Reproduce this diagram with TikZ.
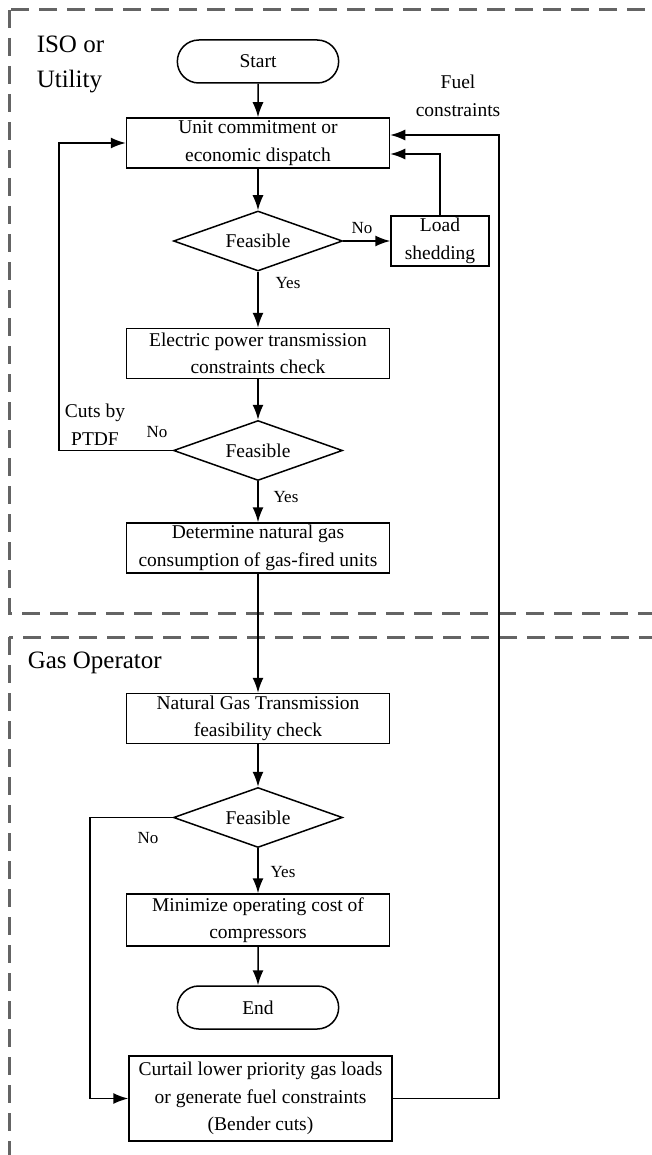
\documentclass[tikz,border=0pt]{standalone}
\usepackage{fontspec}
\setmainfont{Liberation Serif}
\usetikzlibrary{shapes.geometric,shapes.misc,arrows.meta}
\newcommand{\flowfont}{\fontsize{19.5}{27.5}\selectfont}
\newcommand{\yesnofont}{\fontsize{17}{20}\selectfont}
\newcommand{\areafont}{\fontsize{25}{35}\selectfont}
\definecolor{areagray}{RGB}{100,100,100}

\begin{document}
\begin{tikzpicture}[x=1pt, y=-1pt, line width=1.5pt,
    proc/.style = {draw, rectangle, minimum width=263pt, minimum height=50pt, align=center, inner sep=1pt, font=\flowfont},
    term/.style = {draw, rounded rectangle, minimum width=168pt, minimum height=43pt, font=\flowfont},
    dec/.style = {draw, diamond, aspect=2.8, inner sep=0pt, minimum width=169pt, minimum height=60pt, font=\flowfont},
    yn/.style = {font=\yesnofont, inner sep=0pt},
    note/.style = {align=center, font=\flowfont, inner sep=0pt},
    area/.style = {draw=areagray, line width=3pt, dash pattern=on 18pt off 10pt},
    flow/.style = {-{Latex[length=15pt, width=11pt]}}]
            \useasboundingbox (0,0) rectangle (652,1155);
            % Areas
            \begin{scope}
                \clip (0,0) rectangle (652,1155);
                \draw[area] (9,10) rectangle (690,613);
                \draw[area] (9,637) rectangle (690,1190);
            \end{scope}
            \node[font=\areafont, align=left, anchor=west, inner sep=0pt] (iso) at (36,64) {ISO or\\Utility};
            \node[font=\areafont, anchor=west, inner sep=0pt] (gasop) at (27,663) {Gas Operator};

            % Nodes
            \node[term] (start) at (258,61.5) {Start};
            \node[proc] (uc) at (258,143) {Unit commitment or\\economic dispatch};
            \node[dec] (fz1) at (258,241) {Feasible};
            \node[proc, minimum width=98pt] (shed) at (440,241) {Load\\shedding};
            \node[proc] (ep) at (258,353.5) {Electric power transmission\\constraints check};
            \node[dec] (fz2) at (258,450.5) {Feasible};
            \node[proc] (det) at (258,548) {Determine natural gas\\consumption of gas-fired units};
            \node[proc] (ng) at (258,718.5) {Natural Gas Transmission\\feasibility check};
            \node[dec] (fz3) at (258,817.5) {Feasible};
            \node[proc, minimum height=52pt] (min) at (258,920) {Minimize operating cost of\\compressors};
            \node[term] (end) at (258,1007.5) {End};
            \node[proc, minimum height=85pt] (cur) at (260.5,1098.5) {Curtail lower priority gas loads\\or generate fuel constraints\\(Bender cuts)};

            % Labels
            \node[yn] (no1) at (362,228) {No};
            \node[yn] (yes1) at (288,283) {Yes};
            \node[yn] (no2) at (157,432) {No};
            \node[yn] (yes2) at (286,497) {Yes};
            \node[yn] (no3) at (148,838) {No};
            \node[yn] (yes3) at (283,872) {Yes};
            \node[note] (fuel) at (458,96) {Fuel\\constraints};
            \node[note] (ptdf) at (95,425) {Cuts by\\PTDF};

            \coordinate (ptdfL) at (59,450.5);
            \coordinate (gasL) at (90,817.5);
            \coordinate (fuelR) at (499,1098.5);

            \draw[flow] (start) -- (uc);
            \draw[flow] (uc) -- (fz1);
            \draw[flow] (fz1) -- (shed);
            \draw[flow] (shed) |- ([yshift=-11pt]uc.east);
            \draw[flow] (fz1) -- (ep);
            \draw[flow] (ep) -- (fz2);
            \draw[flow] (fz2) -- (ptdfL) |- (uc);
            \draw[flow] (fz2) -- (det);
            \draw[flow] (det) -- (ng);
            \draw[flow] (ng) -- (fz3);
            \draw[flow] (fz3) -- (min);
            \draw[flow] (min) -- (end);
            \draw[flow] (fz3) -- (gasL) |- (cur);
            \draw[flow] (cur) -- (fuelR) |- ([yshift=8pt]uc.east);
        \end{tikzpicture}
\end{document}
